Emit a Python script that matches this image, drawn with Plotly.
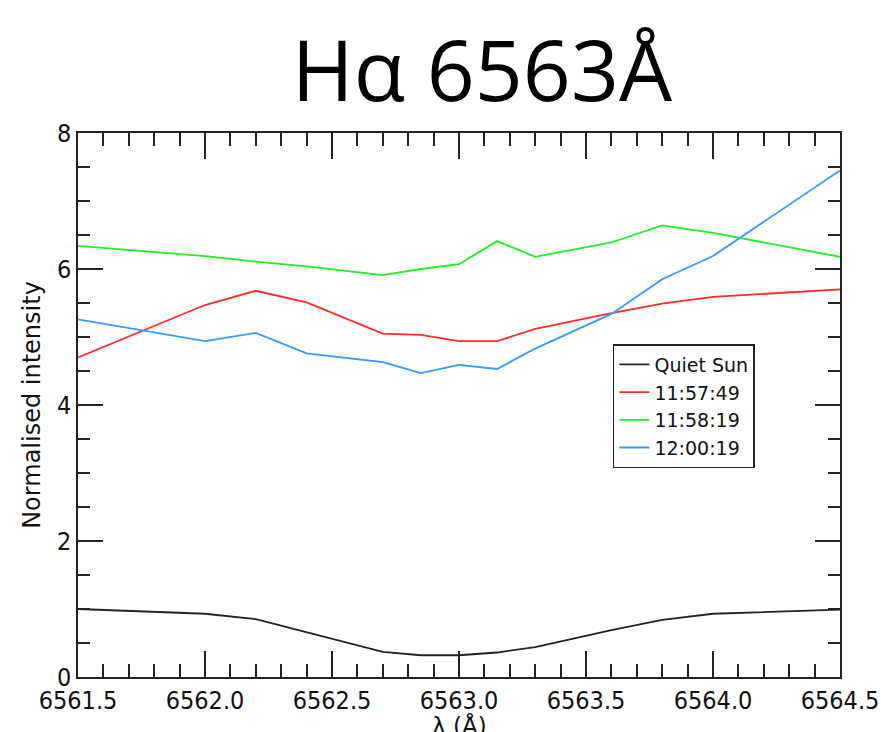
import plotly.graph_objects as go

wavelength = [6561.5, 6562.0, 6562.2, 6562.4, 6562.7, 6562.85, 6563.0,
              6563.15, 6563.3, 6563.6, 6563.8, 6564.0, 6564.5]
quiet_sun = [1.00, 0.93, 0.85, 0.66, 0.37, 0.32, 0.32, 0.36, 0.44, 0.69, 0.84, 0.93, 0.99]
t_115749 = [4.70, 5.47, 5.68, 5.51, 5.05, 5.03, 4.94, 4.94, 5.12, 5.35, 5.49, 5.59, 5.70]
t_115819 = [6.34, 6.19, 6.11, 6.04, 5.91, 6.00, 6.07, 6.41, 6.18, 6.39, 6.64, 6.53, 6.18]
t_120019 = [5.26, 4.94, 5.06, 4.76, 4.63, 4.47, 4.59, 4.53, 4.83, 5.34, 5.85, 6.19, 7.45]

series_names = ["Quiet Sun", "11:57:49", "11:58:19", "12:00:19"]
series_values = [quiet_sun, t_115749, t_115819, t_120019]
series_colors = ["#222222", "#ff2b2b", "#22ee22", "#3399ff"]

x_ticks = [6561.5, 6562.0, 6562.5, 6563.0, 6563.5, 6564.0, 6564.5]
y_ticks = [0, 2, 4, 6, 8]

fig = go.Figure()
for name, vals, col in zip(series_names, series_values, series_colors):
    fig.add_trace(go.Scatter(x=wavelength, y=vals, mode="lines", name=name,
                             line=dict(color=col, width=1.8)))

tickfont = dict(family="DejaVu Sans Condensed", size=25, color="#111111")
fig.update_layout(
    width=881, height=732,
    margin=dict(l=78, r=41, t=133, b=55),
    paper_bgcolor="white", plot_bgcolor="white",
    title=dict(text="Hα 6563Å", x=0.547, xanchor="center", y=1 - 72/732,
               yanchor="middle", yref="container",
               font=dict(family="Open Sans", size=84, color="black")),
    showlegend=True,
    legend=dict(x=0.702, y=0.612, xanchor="left", yanchor="top",
                bordercolor="#222222", borderwidth=1.5, bgcolor="white",
                font=dict(family="DejaVu Sans", size=19, color="#111111"),
                tracegroupgap=0, itemwidth=30),
    annotations=[dict(text="λ (Å)", xref="paper", yref="paper", x=0.5, y=-0.09,
                      xanchor="center", yanchor="middle", showarrow=False,
                      font=dict(family="DejaVu Sans", size=23, color="#111111"))],
)
fig.update_xaxes(
    range=[6561.5, 6564.5], tickvals=x_ticks, ticktext=[f"{v:.1f}" for v in x_ticks],
    ticks="inside", ticklen=26, tickwidth=1.5, tickcolor="#222222",
    minor=dict(dtick=0.1, tick0=6561.5, ticks="inside", ticklen=13, tickwidth=1.5, tickcolor="#222222"),
    showline=True, linecolor="#222222", linewidth=1.5, mirror="ticks",
    showgrid=False, zeroline=False, tickfont=tickfont, automargin=False,
)
fig.update_yaxes(
    range=[0, 8], tickvals=y_ticks,
    ticks="inside", ticklen=25, tickwidth=1.5, tickcolor="#222222",
    minor=dict(dtick=0.5, tick0=0, ticks="inside", ticklen=12, tickwidth=1.5, tickcolor="#222222"),
    showline=True, linecolor="#222222", linewidth=1.5, mirror="ticks",
    showgrid=False, zeroline=False, tickfont=tickfont, automargin=False,
    title=dict(text="Normalised intensity", font=dict(family="DejaVu Sans", size=24, color="#111111"), standoff=10),
)
fig.write_html("out.html")
